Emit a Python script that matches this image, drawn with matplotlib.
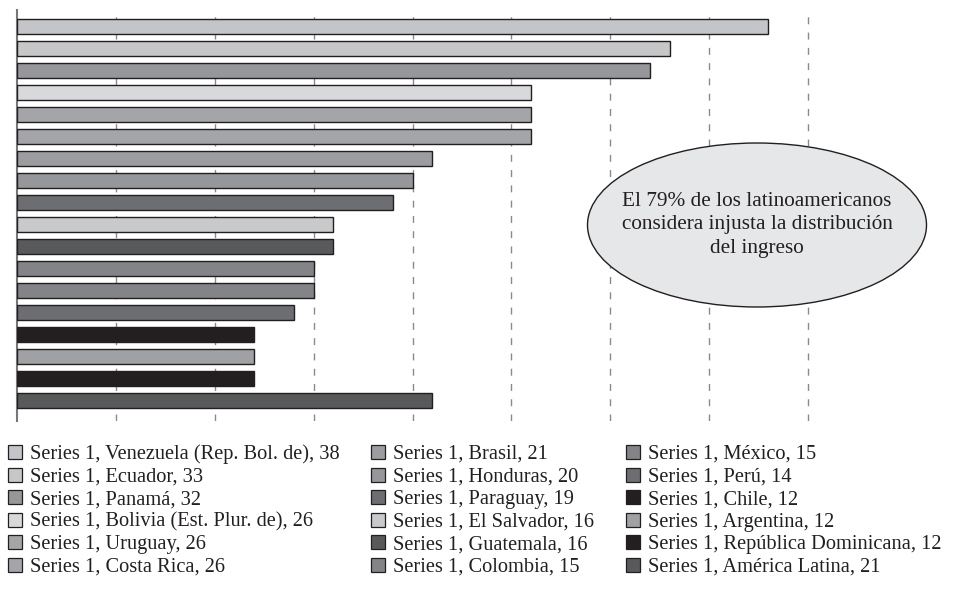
import matplotlib
matplotlib.use("Agg")
import matplotlib.pyplot as plt
from matplotlib.patches import Ellipse, Rectangle

countries = ["Venezuela (Rep. Bol. de)", "Ecuador", "Panamá", "Bolivia (Est. Plur. de)",
             "Uruguay", "Costa Rica", "Brasil", "Honduras", "Paraguay", "El Salvador",
             "Guatemala", "Colombia", "México", "Perú", "Chile", "Argentina",
             "República Dominicana", "América Latina"]
values = [38, 33, 32, 26, 26, 26, 21, 20, 19, 16, 16, 15, 15, 14, 12, 12, 12, 21]
colors = ["#c4c5c8", "#c6c7c9", "#96979a", "#d8d9db", "#a4a5a8", "#a4a5a8",
          "#9c9da0", "#96979a", "#6d6e71", "#c8c9cb", "#58595b", "#838487",
          "#838487", "#6d6e71", "#231f20", "#a0a1a4", "#231f20", "#58595b"]
series_name = "Series 1"
note = "El 79% de los latinoamericanos\nconsidera injusta la distribución\ndel ingreso"

W, H = 955, 594
fig = plt.figure(figsize=(W / 100, H / 100), dpi=100)
ax = fig.add_axes([17 / W, 1 - 421 / H, (810 - 17) / W, (421 - 10) / H])

ypos = list(range(len(values)))
ax.barh(ypos, values, height=0.66, color=colors, edgecolor="#231f20", linewidth=1.0, zorder=3)
ax.set_xlim(0, 40.1)
ax.set_ylim(17.93, -0.75)
ax.set_xticks([5, 10, 15, 20, 25, 30, 35, 40])
ax.xaxis.grid(True, linestyle=(0, (5, 6)), color="#8a8a8a", linewidth=1.0, zorder=0)
ax.tick_params(left=False, bottom=False, labelleft=False, labelbottom=False)
for s in ["top", "right", "bottom"]:
    ax.spines[s].set_visible(False)
ax.spines["left"].set_color("#777777")
ax.spines["left"].set_linewidth(1.5)

serif = ["Liberation Serif", "DejaVu Serif"]

# ellipse note
cx, cy, ew, eh = 757, 225, 339, 164
fig.add_artist(Ellipse((cx / W, 1 - cy / H), ew / W, eh / H, transform=fig.transFigure,
                       facecolor="#e6e7e8", edgecolor="#231f20", linewidth=1.0, zorder=5))
fig.text(cx / W, 1 - cy / H, note, ha="center", va="center", fontsize=15.3,
         family=serif, color="#231f20", linespacing=1.3, zorder=6)

# legend
col_sq_x = [8, 371, 626]
row_y0, row_dy = 452, 22.6
sq = 14
for i, (c, v, col) in enumerate(zip(countries, values, colors)):
    ci, ri = divmod(i, 6)
    x = col_sq_x[ci]
    y = row_y0 + ri * row_dy
    fig.add_artist(Rectangle((x / W, 1 - (y + sq / 2) / H), sq / W, sq / H,
                             transform=fig.transFigure, facecolor=col,
                             edgecolor="#231f20", linewidth=0.9))
    fig.text((x + sq + 8) / W, 1 - y / H, f"{series_name}, {c}, {v}", ha="left",
             va="center_baseline", fontsize=14.7, family=serif, color="#231f20")

fig.savefig("out.png", dpi=100)
